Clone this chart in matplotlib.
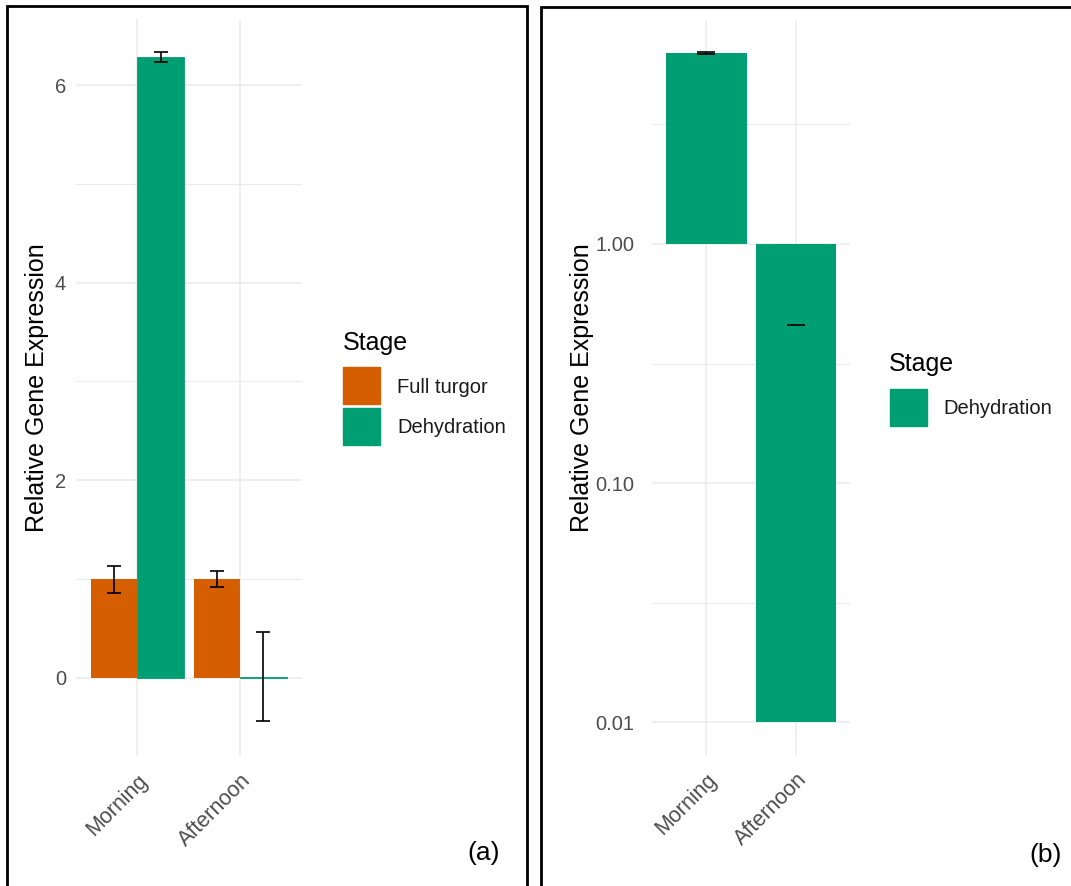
import matplotlib
matplotlib.use("Agg")
import matplotlib.pyplot as plt
import numpy as np
from matplotlib.patches import Rectangle

plt.rcParams['font.family'] = ['Liberation Sans', 'DejaVu Sans']

# expression data
times = ['Morning', 'Afternoon']
stages = ['Full turgor', 'Dehydration']
full_turgor = [1.0, 1.0]
full_turgor_err = [0.137, 0.08]
dehydration = [6.28, 0.01]
dehydration_err = [0.05, 0.45]

colors = {'Full turgor': '#D55E00', 'Dehydration': '#009E73'}
grid_col = '#EBEBEB'
tick_col = '#4D4D4D'

W, H = 1071, 886
fig = plt.figure(figsize=(W / 100, H / 100), dpi=100)


def px_axes(x0, y0, x1, y1):
    return fig.add_axes([x0 / W, 1 - y1 / H, (x1 - x0) / W, (y1 - y0) / H])


def style_axes(ax, ypad, ylabpad):
    for s in ax.spines.values():
        s.set_visible(False)
    ax.tick_params(which='both', length=0, colors=tick_col, labelsize=14.5)
    ax.tick_params(axis='y', pad=ypad)
    ax.tick_params(axis='x', pad=10, labelsize=15.5)
    ax.grid(True, which='major', color=grid_col, lw=1.1)
    ax.grid(True, which='minor', axis='y', color=grid_col, lw=0.8)
    ax.set_axisbelow(True)
    ax.set_ylabel('Relative Gene Expression', fontsize=18, color='black', labelpad=ylabpad)
    for lab in ax.get_xticklabels():
        lab.set_rotation(45)
        lab.set_ha('right')
        lab.set_va('top')
        lab.set_rotation_mode('anchor')


def px_legend(title, names, tx, ty, kx, ky0, kstep, lx):
    # legend drawn in figure pixels: title, square keys, labels
    fig.text(tx / W, 1 - ty / H, title, fontsize=18, ha='left', va='center')
    for i, name in enumerate(names):
        y0 = ky0 + i * kstep
        fig.add_artist(Rectangle((kx / W, 1 - (y0 + 37) / H), 37 / W, 37 / H,
                                 transform=fig.transFigure, color=colors[name]))
        fig.text(lx / W, 1 - (y0 + 20) / H, name, fontsize=14.5, ha='left', va='center',
                 color='#1A1A1A')


# panel frames
fig.add_artist(Rectangle((7 / W, -0.05), 520 / W, 1 - 6 / H + 0.05, transform=fig.transFigure,
                         fill=False, ec='black', lw=2))
fig.add_artist(Rectangle((541 / W, -0.05), 540 / W, 1 - 7 / H + 0.05, transform=fig.transFigure,
                         fill=False, ec='black', lw=2))

# (a) linear scale, both stages dodged
ax1 = px_axes(75.8, 18.8, 302, 756)
x = np.arange(1, len(times) + 1)
bw = 0.45
ax1.bar(x - bw / 2, full_turgor, width=bw, color=colors['Full turgor'], zorder=2)
ax1.bar(x + bw / 2, dehydration, width=bw, color=colors['Dehydration'], zorder=2,
        edgecolor=colors['Dehydration'], linewidth=0.6)
ax1.errorbar(x - bw / 2, full_turgor, yerr=full_turgor_err, fmt='none', ecolor='black',
             elinewidth=1.2, capsize=5, capthick=1.2, zorder=3)
ax1.errorbar(x + bw / 2, dehydration, yerr=dehydration_err, fmt='none', ecolor='black',
             elinewidth=1.2, capsize=5, capthick=1.2, zorder=3)
ax1.set_xlim(0.4, 2.6)
ax1.set_ylim(-0.79, 6.67)
ax1.set_xticks(x)
ax1.set_xticklabels(times)
ax1.set_yticks([0, 2, 4, 6])
ax1.set_yticks([1, 3, 5], minor=True)
style_axes(ax1, ypad=7, ylabpad=4)

px_legend('Stage', stages, 343, 343, 343, 367, 41, 397)
fig.text(500 / W, 1 - 853 / H, '(a)', fontsize=19, ha='right', va='center')

# (b) log scale, dehydration only; bars grow from 1
ax2 = px_axes(652.4, 21, 849.8, 755)
ax2.set_yscale('log')
base = np.ones(len(times))
ax2.bar(x, np.array(dehydration) - base, bottom=base, width=0.9,
        color=colors['Dehydration'], zorder=2)
up = np.array(dehydration) + np.array(dehydration_err)
lo = np.array(dehydration) - np.array(dehydration_err)
for xi, u, l in zip(x, up, lo):
    ax2.hlines(u, xi - 0.1, xi + 0.1, color='black', lw=1.2, zorder=3)
    if l > 0:
        ax2.hlines(l, xi - 0.1, xi + 0.1, color='black', lw=1.2, zorder=3)
        ax2.vlines(xi, l, u, color='black', lw=1.2, zorder=3)
ax2.set_xlim(0.4, 2.6)
ax2.set_ylim(10 ** -2.138, 10 ** 0.933)
ax2.set_xticks(x)
ax2.set_xticklabels(times)
ax2.set_yticks([0.01, 0.1, 1.0])
ax2.set_yticklabels(['0.01', '0.10', '1.00'])
ax2.set_yticks([10 ** -1.5, 10 ** -0.5, 10 ** 0.5], minor=True)
ax2.yaxis.set_minor_formatter(matplotlib.ticker.NullFormatter())
style_axes(ax2, ypad=13, ylabpad=1)

px_legend('Stage', ['Dehydration'], 889, 364, 890, 389, 41, 943)
fig.text(1062 / W, 1 - 855 / H, '(b)', fontsize=19, ha='right', va='center')

fig.savefig('out.png', dpi=100)
